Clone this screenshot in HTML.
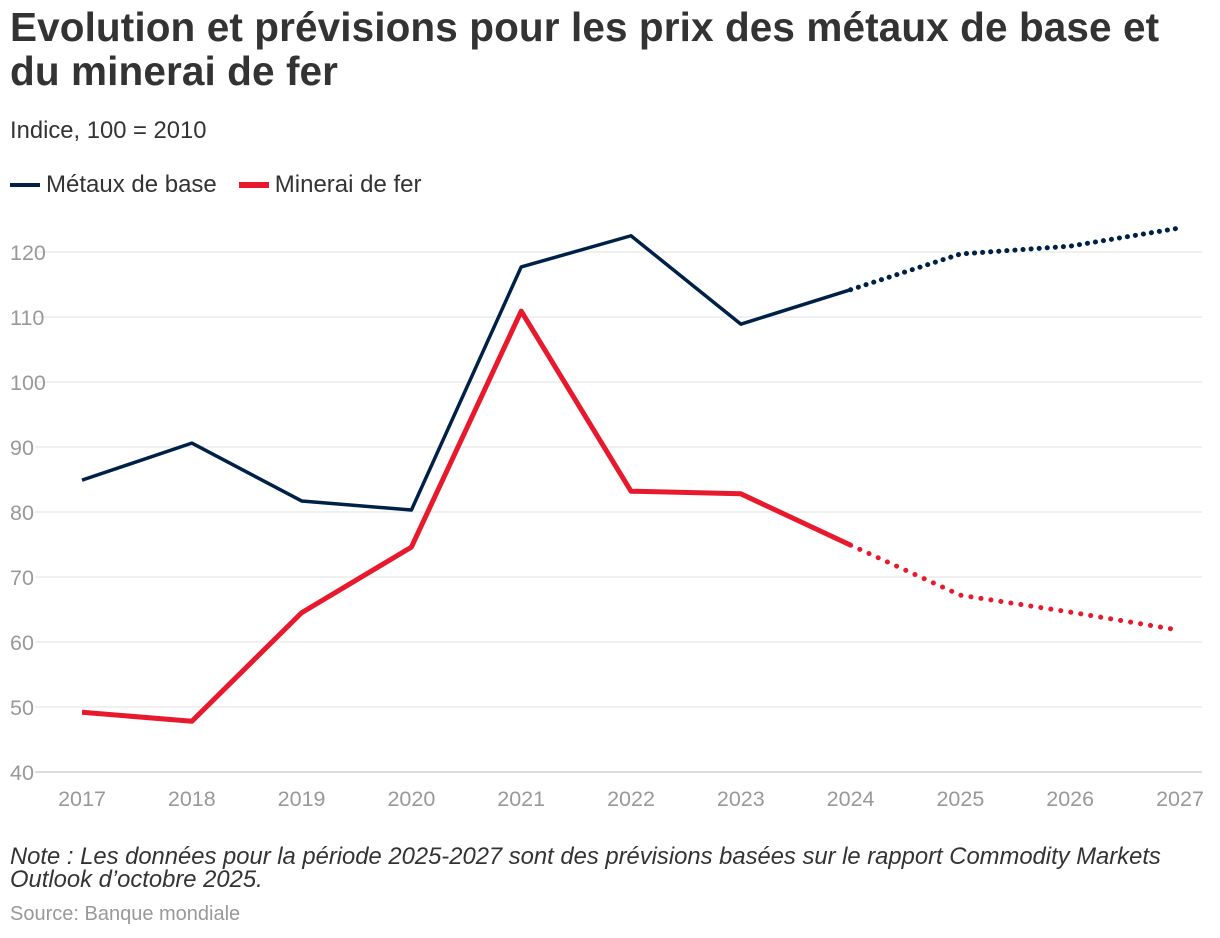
<!DOCTYPE html>
<html><head><meta charset="utf-8"><style>
body{margin:0;background:#fff;width:1220px;height:938px;overflow:hidden;font-family:"Liberation Sans",sans-serif;}
#title{position:absolute;left:10px;top:5px;font-size:40.5px;font-weight:bold;color:#333;line-height:44px;letter-spacing:0.1px;margin:0;white-space:nowrap;}
#sub{position:absolute;left:10px;top:117px;font-size:23.8px;color:#333;}
#legend{position:absolute;left:10px;top:171px;font-size:24px;color:#333;display:flex;gap:22px;}
.li{display:flex;align-items:center;gap:6px;}
.sw{width:30px;height:4px;}
#note{position:absolute;left:10px;top:845px;font-size:23.8px;font-style:italic;color:#333;line-height:23px;width:1195px;}
#src{position:absolute;left:10px;top:903px;font-size:20px;color:#999;}
svg{position:absolute;left:0;top:0;}
</style></head><body>
<h1 id="title">Evolution et prévisions pour les prix des métaux de base et<br>du minerai de fer</h1>
<div id="sub">Indice, 100 = 2010</div>
<div id="legend">
<div class="li"><span class="sw" style="background:#002147"></span>Métaux de base</div>
<div class="li"><span class="sw" style="background:#e8192c;height:6px"></span>Minerai de fer</div>
</div>
<svg id="chart" width="1220" height="938"></svg>
<div id="note">Note : Les données pour la période 2025-2027 sont des prévisions basées sur le rapport Commodity Markets Outlook d’octobre 2025.</div>
<div id="src">Source: Banque mondiale</div>
<script>
const years=[2017,2018,2019,2020,2021,2022,2023,2024,2025,2026,2027];
const metaux=[84.9,90.6,81.7,80.3,117.7,122.5,108.9,114.2,119.7,120.9,123.7];
const minerai=[49.2,47.8,64.5,74.6,110.9,83.2,82.8,74.9,67.2,64.6,61.8];
const yTicks=[40,50,60,70,80,90,100,110,120];
const forecastStart=2024;
const NS="http://www.w3.org/2000/svg";
const svg=document.getElementById('chart');
const x=v=>82+(v-2017)*109.8;
const y=v=>772-(v-40)*6.5;
function mk(t,a){const e=document.createElementNS(NS,t);for(const k in a)e.setAttribute(k,a[k]);svg.appendChild(e);return e;}
yTicks.forEach(t=>{
 const g=mk('line',{x1:35,x2:1202,y1:y(t),y2:y(t),stroke:t===40?'#bbb':'#e2e2e2','stroke-width':1});
 
 
 const l=mk('text',{x:10,y:y(t)+8,'font-size':21.5,fill:'#999'});l.textContent=t;
 
 
});
years.forEach(yr=>{
 const l=mk('text',{x:x(yr),y:806,'font-size':21.5,fill:'#999','text-anchor':'middle'});l.textContent=yr;
 
 
});
function series(vals,color,w,dw,gap,name){
 const solid=[],dash=[];
 years.forEach((yr,i)=>{const p=x(yr)+','+y(vals[i]);if(yr<=forecastStart)solid.push(p);if(yr>=forecastStart)dash.push(p);});
 const a=mk('polyline',{points:solid.join(' '),fill:'none',stroke:color,'stroke-width':w,'stroke-linejoin':'round'});
 
 
 const b=mk('polyline',{points:dash.join(' '),fill:'none',stroke:color,'stroke-width':dw,'stroke-dasharray':'0.1 '+gap,'stroke-linecap':'round'});
 
 
}
series(metaux,'#002147',3.5,5,8,'metaux');
series(minerai,'#e8192c',5,5,10,'minerai');
</script>
</body></html>
